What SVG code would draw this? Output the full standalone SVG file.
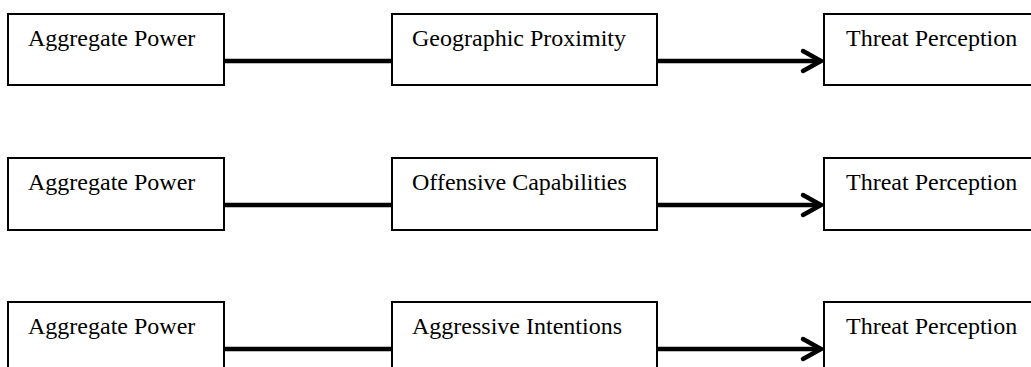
<svg xmlns="http://www.w3.org/2000/svg" width="1031" height="367" viewBox="0 0 1031 367">
<style>
.box{fill:#fff;stroke:#000;stroke-width:2}
.lbl{font-family:"Liberation Serif","Times New Roman",serif;font-size:24px;fill:#000}
.con{stroke:#000;stroke-width:4.5;fill:none}
.head{stroke:#000;stroke-width:4.5;fill:none;stroke-linecap:round;stroke-linejoin:miter}
</style>
<rect width="1031" height="367" fill="#fff"/>
<g id="connectors">
<line class="con" x1="224" y1="61" x2="392" y2="61"/>
<line class="con" x1="657" y1="61" x2="821" y2="61"/>
<polyline class="head" points="803,51 821,61 803,71"/>
<line class="con" x1="224" y1="205" x2="392" y2="205"/>
<line class="con" x1="657" y1="205" x2="821" y2="205"/>
<polyline class="head" points="803,195 821,205 803,215"/>
<line class="con" x1="224" y1="349" x2="392" y2="349"/>
<line class="con" x1="657" y1="349" x2="821" y2="349"/>
<polyline class="head" points="803,339 821,349 803,359"/>
</g>
<g id="n1a"><rect class="box" x="8" y="14" width="216" height="71"/><text class="lbl" x="28" y="46">Aggregate Power</text></g>
<g id="n1b"><rect class="box" x="392" y="14" width="265" height="71"/><text class="lbl" x="412" y="46">Geographic Proximity</text></g>
<g id="n1c"><rect class="box" x="824" y="14" width="220" height="71"/><text class="lbl" x="846" y="46">Threat Perception</text></g>
<g id="n2a"><rect class="box" x="8" y="158" width="216" height="72"/><text class="lbl" x="28" y="190">Aggregate Power</text></g>
<g id="n2b"><rect class="box" x="392" y="158" width="265" height="72"/><text class="lbl" x="412" y="190">Offensive Capabilities</text></g>
<g id="n2c"><rect class="box" x="824" y="158" width="220" height="72"/><text class="lbl" x="846" y="190">Threat Perception</text></g>
<g id="n3a"><rect class="box" x="8" y="302" width="216" height="80"/><text class="lbl" x="28" y="334">Aggregate Power</text></g>
<g id="n3b"><rect class="box" x="392" y="302" width="265" height="80"/><text class="lbl" x="412" y="334">Aggressive Intentions</text></g>
<g id="n3c"><rect class="box" x="824" y="302" width="220" height="80"/><text class="lbl" x="846" y="334">Threat Perception</text></g>
</svg>
